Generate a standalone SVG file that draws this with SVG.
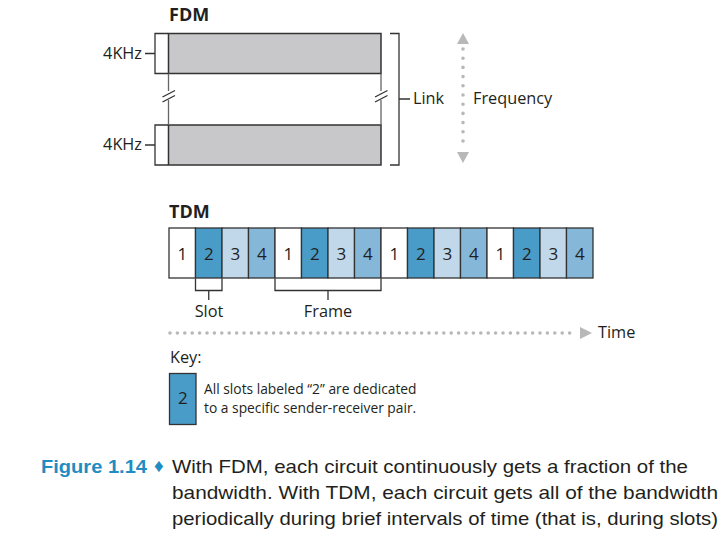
<svg xmlns="http://www.w3.org/2000/svg" width="728" height="542" viewBox="0 0 728 542">
<style>
.t{font-family:"Open Sans","Noto Sans","Liberation Sans",sans-serif;fill:#231f20}
.b{font-weight:bold}
.band{fill:#c8c8ca;stroke:#333;stroke-width:1.5}
.br{fill:none;stroke:#333;stroke-width:1.3}
.slot{stroke:#333;stroke-width:1.3}
.s1{fill:#ffffff}.s2{fill:#4a9cc8}.s3{fill:#c1d8ea}.s4{fill:#85b7d9}
.num{font-size:17px;text-anchor:middle}
.lbl{font-size:16.3px}
.dots{fill:none;stroke:#b8b8b8;stroke-width:3.6;stroke-linecap:round}
.cap{font-family:"Liberation Sans Narrow","Liberation Sans",sans-serif;fill:#231f20;font-size:19px}
</style>
<g id="fdm">
<text class="t b" x="169" y="21" font-size="18">FDM</text>
<rect id="band1" class="band" x="168.5" y="33.5" width="212.5" height="40"/>
<rect id="band2" class="band" x="168.5" y="125" width="212.5" height="40"/>
<g stroke="#666" stroke-width="1.3" fill="none">
<path d="M168.5 73.5V91 M168.5 100V125 M381 73.5V91 M381 100V125"/>
<path d="M162.5 97 L175 90.5 M162.5 102 L175 95.5 M375 97 L387.5 90.5 M375 102 L387.5 95.5" stroke="#333"/>
</g>
<path class="br" d="M168 33.5H155V73.5H168 M155 53.5H145 M168 125H155V165H168 M155 145H145"/>
<text class="t lbl" x="142" y="58.5" text-anchor="end">4KHz</text>
<text class="t lbl" x="142" y="150" text-anchor="end">4KHz</text>
<path class="br" d="M390 33.5H399V165H390 M399 99H410"/>
<text class="t lbl" x="413" y="104">Link</text>
<path class="dots" d="M463 49V149" stroke-dasharray="0 9.2"/>
<polygon points="463,33 469,44 457,44" fill="#b8b8b8"/>
<polygon points="463,163 469,152 457,152" fill="#b8b8b8"/>
<text class="t lbl" x="473" y="104">Frequency</text>
</g>
<g id="tdm">
<text class="t b" x="169" y="218" font-size="18">TDM</text>
<rect class="slot s1" x="169" y="228" width="26.5" height="50"/>
<rect class="slot s2" x="195.5" y="228" width="26.5" height="50"/>
<rect class="slot s3" x="222" y="228" width="26.5" height="50"/>
<rect class="slot s4" x="248.5" y="228" width="26.5" height="50"/>
<rect class="slot s1" x="275" y="228" width="26.5" height="50"/>
<rect class="slot s2" x="301.5" y="228" width="26.5" height="50"/>
<rect class="slot s3" x="328" y="228" width="26.5" height="50"/>
<rect class="slot s4" x="354.5" y="228" width="26.5" height="50"/>
<rect class="slot s1" x="381" y="228" width="26.5" height="50"/>
<rect class="slot s2" x="407.5" y="228" width="26.5" height="50"/>
<rect class="slot s3" x="434" y="228" width="26.5" height="50"/>
<rect class="slot s4" x="460.5" y="228" width="26.5" height="50"/>
<rect class="slot s1" x="487" y="228" width="26.5" height="50"/>
<rect class="slot s2" x="513.5" y="228" width="26.5" height="50"/>
<rect class="slot s3" x="540" y="228" width="26.5" height="50"/>
<rect class="slot s4" x="566.5" y="228" width="26.5" height="50"/>
<g class="t num">
<text x="182.25" y="260">1</text><text x="208.75" y="260">2</text><text x="235.25" y="260">3</text><text x="261.75" y="260">4</text>
<text x="288.25" y="260">1</text><text x="314.75" y="260">2</text><text x="341.25" y="260">3</text><text x="367.75" y="260">4</text>
<text x="394.25" y="260">1</text><text x="420.75" y="260">2</text><text x="447.25" y="260">3</text><text x="473.75" y="260">4</text>
<text x="500.25" y="260">1</text><text x="526.75" y="260">2</text><text x="553.25" y="260">3</text><text x="579.75" y="260">4</text>
</g>
<path class="br" d="M195.5 279V290.5H222V279 M208.75 290.5V300 M275 279V290.5H381V279 M328 290.5V300"/>
<text class="t lbl" x="209" y="317" text-anchor="middle">Slot</text>
<text class="t lbl" x="328" y="317" text-anchor="middle">Frame</text>
<path class="dots" d="M170 333H576" stroke-dasharray="0 7.4"/>
<polygon points="592,333 580,327 580,339" fill="#b8b8b8"/>
<text class="t lbl" x="598" y="338">Time</text>
</g>
<g id="key">
<text class="t lbl" x="170" y="363">Key:</text>
<rect class="slot s2" x="169.5" y="373.5" width="26.5" height="51"/>
<text class="t num" x="182.75" y="404">2</text>
<text class="t" x="204" y="394" font-size="13.8">All slots labeled “2” are dedicated</text>
<text class="t" x="204" y="413" font-size="13.8">to a specific sender-receiver pair.</text>
</g>
<g id="caption">
<text class="cap" x="41" y="473" font-weight="bold" style="fill:#1f8cc2" textLength="106" lengthAdjust="spacingAndGlyphs">Figure 1.14</text>
<text class="cap" x="154" y="472" font-size="14" style="fill:#1f8cc2">♦</text>
<text class="cap" x="172" y="473" textLength="516" lengthAdjust="spacingAndGlyphs">With FDM, each circuit continuously gets a fraction of the</text>
<text class="cap" x="172" y="499" textLength="546" lengthAdjust="spacingAndGlyphs">bandwidth. With TDM, each circuit gets all of the bandwidth</text>
<text class="cap" x="172" y="525" textLength="546" lengthAdjust="spacingAndGlyphs">periodically during brief intervals of time (that is, during slots)</text>
</g>
</svg>
